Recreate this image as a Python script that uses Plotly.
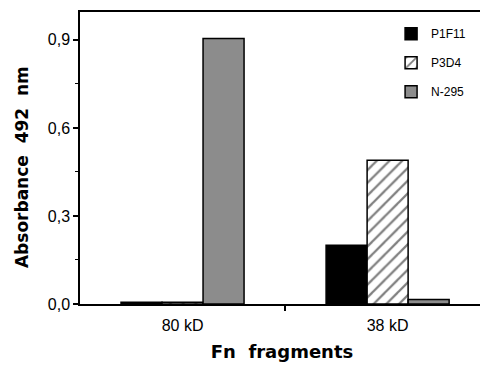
import plotly.graph_objects as go

categories = ["80 kD", "38 kD"]
series_names = ["P1F11", "P3D4", "N-295"]
p1f11 = [0.006, 0.20]
p3d4 = [0.006, 0.49]
n295 = [0.905, 0.015]
y_tick_vals = [0.0, 0.3, 0.6, 0.9]
y_tick_text = ["0,0", "0,3", "0,6", "0,9"]

xpos = list(range(len(categories)))

fig = go.Figure()
fig.add_trace(go.Bar(x=xpos, y=p1f11, name=series_names[0], legendgroup="a",
                     marker=dict(color="black", line=dict(color="black", width=1.5))))
fig.add_trace(go.Bar(x=xpos, y=p3d4, name=series_names[1], legendgroup="b",
                     marker=dict(color="white", line=dict(color="black", width=1.5),
                                 pattern=dict(shape="/", fgcolor="black", bgcolor="white",
                                              size=9, solidity=0.25))))
fig.add_trace(go.Bar(x=xpos, y=n295, name=series_names[2], legendgroup="c",
                     marker=dict(color="#8c8c8c", line=dict(color="black", width=1.5))))

sp = "\u00a0\u00a0"
fig.update_layout(
    width=480, height=358,
    margin=dict(l=72, r=4, t=2, b=62),
    paper_bgcolor="white", plot_bgcolor="white",
    barmode="group", bargap=0.4, bargroupgap=0,
    font=dict(family="Liberation Sans, Arial, sans-serif", color="black"),
    showlegend=True,
    legend=dict(x=0.77, y=0.975, xanchor="left", yanchor="top",
                bgcolor="rgba(0,0,0,0)", font=dict(size=12),
                tracegroupgap=10, itemwidth=30),
    xaxis=dict(
        range=[-0.5, 1.47], tickmode="array", tickvals=xpos, ticktext=categories,
        ticks="", showgrid=False, zeroline=False,
        showline=True, linecolor="black", linewidth=1.5, mirror=True,
        tickfont=dict(size=16), ticklabelstandoff=6,
        minor=dict(tickmode="array", tickvals=[0.5], ticks="outside", ticklen=5,
                   tickcolor="black", tickwidth=1.5, showgrid=False),
        title=dict(text="<b>Fn" + sp + "fragments</b>",
                   font=dict(size=18, family="DejaVu Sans"), standoff=12),
    ),
    yaxis=dict(
        range=[0, 0.995], tickmode="array", tickvals=y_tick_vals, ticktext=y_tick_text,
        ticks="outside", ticklen=5, tickwidth=1.5, tickcolor="black",
        showgrid=False, zeroline=False,
        showline=True, linecolor="black", linewidth=1.5, mirror=False,
        tickfont=dict(size=16),
        minor=dict(tickmode="array", tickvals=[0.15, 0.45, 0.75], ticks="outside",
                   ticklen=3, tickcolor="black", tickwidth=1, showgrid=False),
    ),
    annotations=[dict(text="<b>Absorbance" + sp + "492" + sp + "nm</b>", textangle=-90,
                      xref="paper", yref="paper", x=-0.1436, y=0.469,
                      xanchor="center", yanchor="middle", showarrow=False,
                      font=dict(size=17, family="DejaVu Sans"))],
)

fig.write_html("out.html")
